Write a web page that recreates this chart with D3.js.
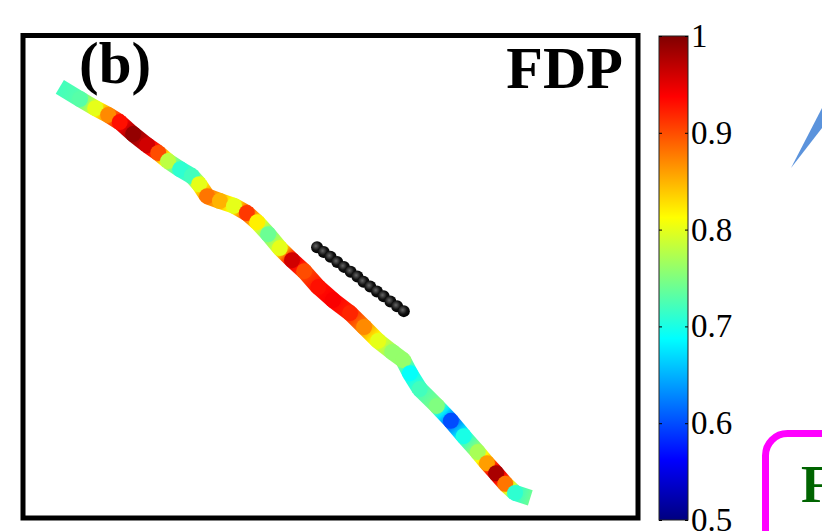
<!DOCTYPE html>
<html>
<head>
<meta charset="utf-8">
<script src="https://cdn.jsdelivr.net/npm/d3@7"></script>
<style>
    body { margin: 0; background: #fff; }
    #chart { width: 822px; height: 531px; }
    text { font-family: "Liberation Serif", "DejaVu Serif", serif; }
</style>
</head>
<body>
<div id="chart"></div>
<script>
//Datos de la trayectoria (unidades del panel, 0-100)
const pathX = [5.7, 9.0, 11.5, 13.6, 15.5, 17.7, 20.0, 21.8, 23.4, 25.4, 27.3, 28.5, 29.8,
    31.9, 34.2, 36.3, 38.0, 39.8, 41.7, 43.7, 45.7, 48.0, 50.4, 53.2, 55.5, 57.8, 60.1,
    61.9, 63.0, 64.6, 67.4, 69.7, 71.8, 74.1, 75.6, 77.1, 78.6, 80.2, 82.7];
const pathY = [89.4, 86.9, 85.0, 83.6, 82.1, 79.6, 77.3, 75.7, 74.0, 72.3, 70.9, 69.2, 66.7,
    65.7, 64.7, 63.2, 61.3, 58.8, 55.9, 53.4, 51.1, 47.8, 45.1, 42.4, 39.5, 36.6, 34.3,
    32.6, 29.9, 26.6, 23.1, 20.0, 16.8, 13.5, 11.2, 9.1, 6.9, 5.0, 4.0];
//Valor FDP en cada punto
const fdpValues = [0.72, 0.73, 0.80, 0.87, 0.93, 0.99, 0.96, 0.90, 0.78, 0.71, 0.72, 0.80, 0.88,
    0.85, 0.80, 0.91, 0.82, 0.74, 0.80, 0.96, 0.90, 0.93, 0.94, 0.92, 0.87, 0.80, 0.76,
    0.76, 0.69, 0.72, 0.75, 0.60, 0.70, 0.77, 0.86, 0.98, 0.88, 0.71, 0.74];

//Puntos negros
const dotX = [47.8, 48.9, 50.0, 51.1, 52.2, 53.3, 54.4, 55.4, 56.5, 57.6, 58.7, 59.8, 60.9, 62.0];
const dotY = [56.1, 55.1, 54.1, 53.0, 52.0, 51.0, 50.0, 48.9, 47.9, 46.9, 45.9, 44.8, 43.8, 42.8];

//Barra de color
const cbDomain = [0.5, 1];
const cbTicks = [0.5, 0.6, 0.7, 0.8, 0.9, 1];
const jetStops = [0.5, 0.5625, 0.6875, 0.8125, 0.9375, 1];
const jetColors = ['#000080', '#0000ff', '#00ffff', '#ffff00', '#ff0000', '#800000'];

let svg = d3.select('#chart')
    .append('svg')
    .attr('width', 822)
    .attr('height', 531);

let defs = svg.append('defs');

let x = d3.scaleLinear().domain([0, 100]).range([25, 636]);
let y = d3.scaleLinear().domain([0, 100]).range([517, 36]);
let color = d3.scaleLinear().domain(jetStops).range(jetColors);

//Marco del panel
svg.append('rect')
    .attr('x', 23)
    .attr('y', 35.5)
    .attr('width', 615)
    .attr('height', 482.5)
    .attr('fill', 'none')
    .attr('stroke', '#000')
    .attr('stroke-width', 5);

//Trayectoria coloreada por tramos
let pts = pathX.map(function(d, i) { return { x: x(d), y: y(pathY[i]), v: fdpValues[i] }; });
let segs = d3.pairs(pts);

segs.forEach(function(s, i) {
    let g = defs.append('linearGradient')
        .attr('id', 'seg' + i)
        .attr('gradientUnits', 'userSpaceOnUse')
        .attr('x1', s[0].x).attr('y1', s[0].y)
        .attr('x2', s[1].x).attr('y2', s[1].y);
    //paradas intermedias para seguir la paleta jet entre los dos valores
    [0, 0.25, 0.5, 0.75, 1].forEach(function(t) {
        g.append('stop')
            .attr('offset', t)
            .attr('stop-color', color(s[0].v + (s[1].v - s[0].v) * t));
    });
});

svg.append('g')
    .selectAll('line')
    .data(segs)
    .enter()
    .append('line')
    .attr('x1', function(d) { return d[0].x; })
    .attr('y1', function(d) { return d[0].y; })
    .attr('x2', function(d) { return d[1].x; })
    .attr('y2', function(d) { return d[1].y; })
    .attr('stroke', function(d, i) { return 'url(#seg' + i + ')'; })
    .attr('stroke-width', 16)
    .attr('stroke-linecap', 'butt');

//Juntas entre tramos
svg.append('g')
    .selectAll('circle')
    .data(pts.slice(1, -1))
    .enter()
    .append('circle')
    .attr('cx', function(d) { return d.x; })
    .attr('cy', function(d) { return d.y; })
    .attr('r', 8)
    .attr('fill', function(d) { return color(d.v); });

//Bolitas negras
let ball = defs.append('radialGradient')
    .attr('id', 'ball')
    .attr('cx', '40%').attr('cy', '40%').attr('r', '60%');
ball.append('stop').attr('offset', 0).attr('stop-color', '#666');
ball.append('stop').attr('offset', 0.6).attr('stop-color', '#111');
ball.append('stop').attr('offset', 1).attr('stop-color', '#000');

svg.append('g')
    .selectAll('circle')
    .data(dotX)
    .enter()
    .append('circle')
    .attr('cx', function(d) { return x(d); })
    .attr('cy', function(d, i) { return y(dotY[i]); })
    .attr('r', 6)
    .attr('fill', 'url(#ball)');

//Textos del panel
svg.append('text')
    .attr('x', 79)
    .attr('y', 83)
    .attr('font-size', 59)
    .attr('font-weight', 'bold')
    .text('(b)');

svg.append('text')
    .attr('x', 623)
    .attr('y', 88)
    .attr('text-anchor', 'end')
    .attr('font-size', 60)
    .attr('font-weight', 'bold')
    .text('FDP');

//Barra de color
let cb = d3.scaleLinear().domain(cbDomain).range([520, 36]);

let cbGrad = defs.append('linearGradient')
    .attr('id', 'jet')
    .attr('x1', 0).attr('y1', 1)
    .attr('x2', 0).attr('y2', 0);
jetStops.forEach(function(d, i) {
    cbGrad.append('stop')
        .attr('offset', (d - cbDomain[0]) / (cbDomain[1] - cbDomain[0]))
        .attr('stop-color', jetColors[i]);
});

svg.append('rect')
    .attr('x', 659)
    .attr('y', cb(1))
    .attr('width', 29)
    .attr('height', cb(0.5) - cb(1))
    .attr('fill', 'url(#jet)')
    .attr('stroke', '#222')
    .attr('stroke-width', 1);

let axR = svg.append('g')
    .attr('transform', 'translate(688,0)')
    .call(d3.axisRight(cb).tickValues(cbTicks).tickSizeInner(-3).tickSizeOuter(0).tickPadding(3).tickFormat(d3.format('')));
axR.select('.domain').remove();
axR.selectAll('text').attr('font-size', 33).attr('font-family', '"Liberation Serif", serif');

let axL = svg.append('g')
    .attr('transform', 'translate(659,0)')
    .call(d3.axisLeft(cb).tickValues(cbTicks).tickSizeInner(-3).tickSizeOuter(0).tickFormat(''));
axL.select('.domain').remove();

//Restos de los paneles vecinos
svg.append('path')
    .attr('d', 'M791,168L822,108L822,128Z')
    .attr('fill', '#5b93dc');

svg.append('rect')
    .attr('x', 765.5)
    .attr('y', 433.5)
    .attr('width', 120)
    .attr('height', 140)
    .attr('rx', 22)
    .attr('fill', 'none')
    .attr('stroke', '#ff00ff')
    .attr('stroke-width', 7);

svg.append('text')
    .attr('x', 801)
    .attr('y', 502)
    .attr('font-size', 52)
    .attr('font-weight', 'bold')
    .attr('fill', '#006400')
    .text('F');
</script>
</body>
</html>
